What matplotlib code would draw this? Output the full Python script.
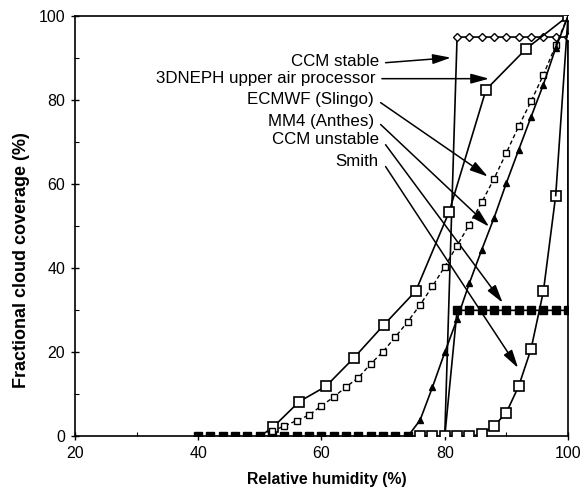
import matplotlib
matplotlib.use("Agg")
import matplotlib.pyplot as plt
from matplotlib.ticker import MultipleLocator

plt.rcParams['font.family'] = ['Liberation Sans', 'DejaVu Sans']

# ---- data ----
ccm_stable_x = [80, 82, 84, 86, 88, 90, 92, 94, 96, 98, 100, 100]
ccm_stable_y = [0, 95, 95, 95, 95, 95, 95, 95, 95, 95, 95, 100]

neph_x = [50, 52.2, 56.4, 60.7, 65.2, 70.1, 75.3, 80.7, 86.7, 93.2, 100]
neph_y = [0, 2.3, 8.3, 11.9, 18.6, 26.5, 34.6, 53.4, 82.5, 92.2, 100]

ecmwf_x = [50, 52, 54, 56, 58, 60, 62, 64, 66, 68, 70, 72, 74, 76, 78, 80,
           82, 84, 86, 88, 90, 92, 94, 96, 98, 100]
ecmwf_y = [0, 1.3, 2.5, 3.8, 5.1, 7.3, 9.4, 11.8, 14.0, 17.3, 20.2, 23.7, 27.3,
           31.3, 35.7, 40.4, 45.4, 50.4, 55.7, 61.3, 67.5, 73.8, 79.7, 86.0,
           93.0, 100]

mm4_x = [74, 76, 78, 80, 82, 84, 86, 88, 90, 92, 94, 96, 98, 100]
mm4_y = [0, 3.9, 11.7, 20.0, 27.9, 36.5, 44.4, 52.0, 60.3, 68.2, 76.0, 83.7,
         92.4, 100]

ccm_unstable_x = [40, 42, 44, 46, 48, 50, 52, 54, 56, 58, 60, 62, 64, 66, 68,
                  70, 72, 74, 76, 78, 80, 82, 84, 86, 88, 90, 92, 94, 96, 98,
                  100, 100]
ccm_unstable_y = [0] * 21 + [30] * 10 + [100]

smith_x = [76, 78, 80, 82, 84, 86, 88, 90, 92, 94, 96, 98, 100]
smith_y = [0, 0, 0, 0, 0, 0.6, 2.5, 5.7, 12.0, 20.8, 34.5, 57.3, 100]

labels = ["CCM stable", "3DNEPH upper air processor", "ECMWF (Slingo)",
          "MM4 (Anthes)", "CCM unstable", "Smith"]
label_pos = [(69.3, 89.2), (68.8, 85.1), (68.5, 80.1), (68.5, 74.9),
             (69.3, 70.6), (69.3, 65.4)]
arrow_start = [(70.4, 88.9), (69.8, 85.1), (69.6, 79.4), (69.6, 74.2),
               (70.4, 69.4), (70.4, 64.2)]
arrow_end = [(81.0, 90.1), (87.2, 85.1), (87.0, 61.8), (87.2, 49.9),
             (89.4, 31.8), (91.9, 16.3)]

x_ticks = [20, 40, 60, 80, 100]
y_ticks = [0, 20, 40, 60, 80, 100]

# ---- figure ----
fig = plt.figure(figsize=(5.85, 4.87), dpi=100)
ax = fig.add_axes([0.128, 0.1037, 0.843, 0.8634])

lw = 1.2
ax.plot(ccm_unstable_x, ccm_unstable_y, color='black', lw=lw, marker='s',
        ms=5.5, mfc='black', mec='black', zorder=3)
ax.plot(ccm_stable_x[:-1], ccm_stable_y[:-1], color='black', lw=lw,
        marker='D', ms=4, mfc='white', mec='black', mew=1.0, zorder=3)
ax.plot(ccm_stable_x[-2:], ccm_stable_y[-2:], color='black', lw=lw, zorder=3)
ax.plot(neph_x[1:], neph_y[1:], color='black', lw=lw, marker='s', ms=6.5,
        mfc='white', mec='black', mew=1.2, zorder=4)
ax.plot(neph_x[:2], neph_y[:2], color='black', lw=lw, zorder=3)
ax.plot(ecmwf_x[1:-1], ecmwf_y[1:-1], color='black', lw=1.0,
        ls=(0, (3, 2)), marker='s', ms=4, mfc='white', mec='black', mew=1.0,
        zorder=4)
ax.plot(ecmwf_x[-2:], ecmwf_y[-2:], color='black', lw=1.0, ls=(0, (3, 2)),
        zorder=4)
ax.plot(mm4_x, mm4_y, color='black', lw=lw, marker='^', ms=5,
        mfc='black', mec='black', markevery=list(range(1, len(mm4_x) - 1)),
        zorder=4)
ax.plot(smith_x[:-1], smith_y[:-1], color='black', lw=lw, marker='s', ms=6.5,
        mfc='white', mec='black', mew=1.2, zorder=5)
ax.plot(smith_x[-2:], smith_y[-2:], color='black', lw=lw, zorder=5)

for lab, tp, a0, a1 in zip(labels, label_pos, arrow_start, arrow_end):
    ax.text(tp[0], tp[1], lab, ha='right', va='center', fontsize=12.2,
            color='black')
    ax.annotate('', xy=a1, xytext=a0,
                arrowprops=dict(arrowstyle='-|>,head_length=1.1,head_width=0.3',
                                color='black', lw=1.1, shrinkA=0, shrinkB=0))

ax.set_xlim(20, 100)
ax.set_ylim(0, 100)
ax.set_xticks(x_ticks)
ax.set_yticks(y_ticks)
ax.xaxis.set_minor_locator(MultipleLocator(10))
ax.yaxis.set_minor_locator(MultipleLocator(10))
ax.tick_params(which='major', direction='inout', length=6, width=1,
               labelsize=11.5, pad=4)
ax.tick_params(which='minor', direction='in', length=3, width=0.8)
for s in ax.spines.values():
    s.set_linewidth(1.2)

ax.set_xlabel("Relative humidity (%)", fontsize=11.3, fontweight='bold',
              labelpad=3)
ax.xaxis.set_label_coords(0.51, -0.085)
ax.set_ylabel("Fractional cloud coverage (%)", fontsize=13,
              fontweight='bold')
ax.yaxis.set_label_coords(-0.09, 0.42)

fig.savefig("out.png", dpi=100)
